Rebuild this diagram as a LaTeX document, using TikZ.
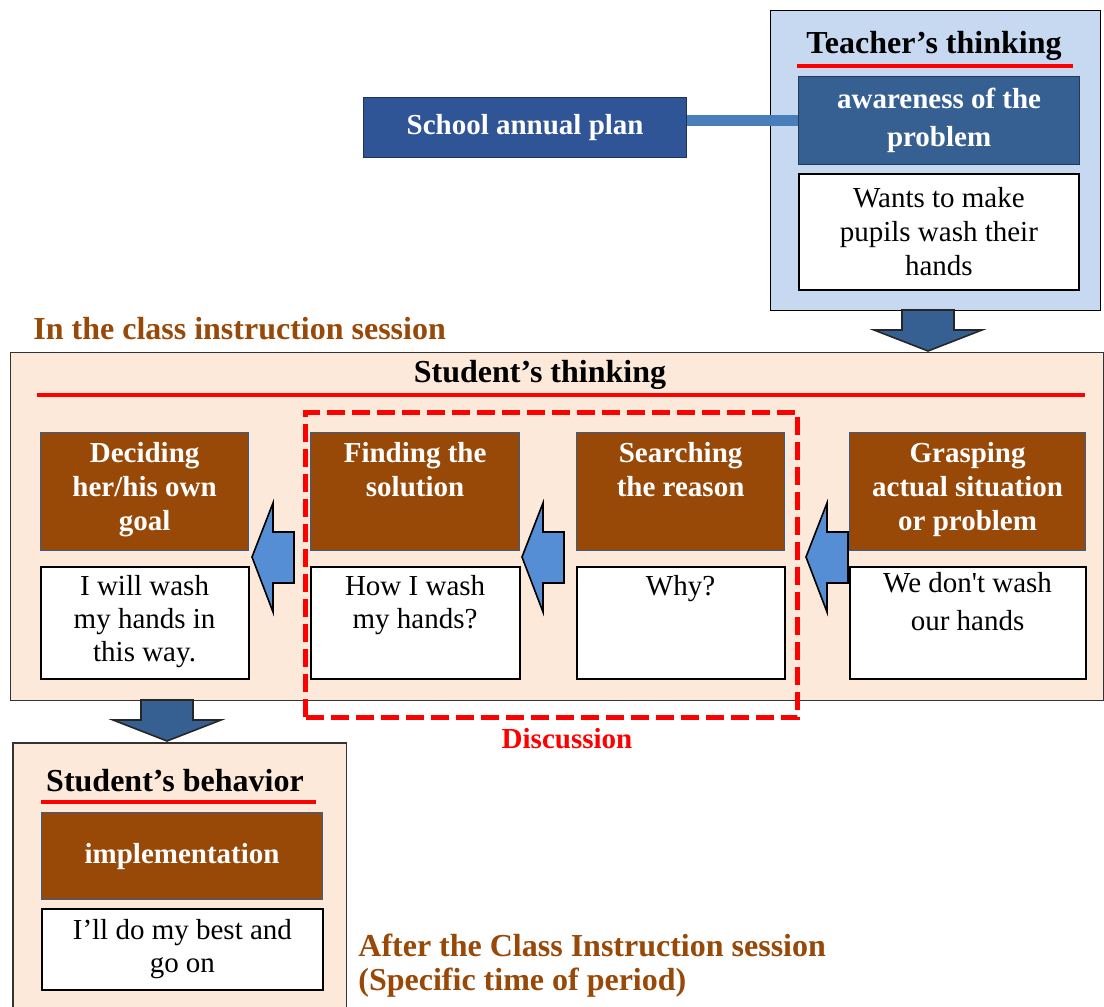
\documentclass[tikz,border=0pt]{standalone}
\usepackage{fontspec}
\setmainfont{Liberation Serif}
\usetikzlibrary{positioning}
\definecolor{boxbrown}{HTML}{984807}
\definecolor{boxedge}{HTML}{385D8A}
\definecolor{peach}{HTML}{FDE9D9}
\definecolor{paleblue}{HTML}{C6D9F1}
\definecolor{deepblue}{HTML}{376092}
\definecolor{planblue}{HTML}{2F5597}
\definecolor{barblue}{HTML}{4A7EBB}
\definecolor{arrowblue}{HTML}{558ED5}
\newcommand{\leftblock}[1]{\draw[left block] (#1) -- ++(21,-54) -- ++(0,29) -- ++(21,0) -- ++(0,51) -- ++(-21,0) -- ++(0,29) -- cycle;}
\newcommand{\downblock}[1]{\draw[down block] (#1) ++(-26,0) -- ++(0,20) -- ++(-28,0) -- ++(54,21) -- ++(54,-21) -- ++(-28,0) -- ++(0,-20) -- cycle;}

\begin{document}
\begin{tikzpicture}[x=0.5pt,y=-0.5pt,
		box/.style={anchor=north west,align=center,inner sep=0pt},
		brown box/.style={box,fill=boxbrown,draw=boxedge,line width=0.6pt,text=white,font=\bfseries\fontsize{14.5}{17}\selectfont},
		white box/.style={box,fill=white,draw=black,line width=0.9pt,font=\fontsize{14.5}{16.5}\selectfont},
		head text/.style={inner sep=0pt,font=\bfseries\fontsize{16}{17}\selectfont},
		red rule/.style={red,line width=1.6pt},
		left block/.style={fill=arrowblue,draw=black,line width=0.8pt,line join=miter},
		down block/.style={fill=deepblue,draw=black!85,line width=0.8pt,line join=miter}]
	\useasboundingbox (0,0) rectangle (1104,1007);

	\node[box,fill=paleblue,draw=black,line width=0.6pt,minimum width=165pt,minimum height=150pt] (teacher) at (770,10) {};
	\node[head text] (tthink) at (934,46) {Teacher’s thinking};
	\draw[red rule] (797,66) -- (1073,66);
	\node[box,fill=planblue,draw=planblue!60!black,line width=0.6pt,text=white,font=\bfseries\fontsize{14.5}{17}\selectfont,minimum width=161.5pt,minimum height=30pt] (plan) at (363,97) {School annual plan};
	\node[box,fill=deepblue,draw=deepblue!60!black,line width=0.6pt,text=white,font=\bfseries\fontsize{14.5}{19}\selectfont,minimum width=140.5pt,minimum height=44pt] (aware) at (798,76) {awareness of the\\problem};
	\draw[barblue,line width=5.5pt] (plan.east |- aware.west) -- (aware.west);
	\node[white box,font=\fontsize{14.5}{17}\selectfont,minimum width=140pt,minimum height=58pt] (wants) at (798,173) {Wants to make\\pupils wash their\\hands};

	\node[head text,text=boxbrown,anchor=west] (insession) at (33,329) {In the class instruction session};
	\node[box,fill=peach,draw=black!80,line width=0.6pt,minimum width=546.5pt,minimum height=174pt] (class) at (10,352) {};
	\node[head text] (sthink) at (540,375) {Student’s thinking};
	\draw[red rule] (37,395) -- (1085,395);

	\node[brown box,minimum width=104pt,minimum height=59pt] (decide) at (40,432) {Deciding\\her/his own\\goal\strut};
	\node[brown box,minimum width=104.5pt,minimum height=59pt] (find) at (310,432) {Finding the\\solution\\\strut};
	\node[brown box,minimum width=104pt,minimum height=59pt] (search) at (576,432) {Searching\\the reason\\\strut};
	\node[brown box,minimum width=118pt,minimum height=59pt] (grasp) at (849,432) {Grasping\\actual situation\\or problem\strut};
	\node[white box,minimum width=104pt,minimum height=56pt,below=7.5pt of decide] (will) {I will wash\\my hands in\\this way.\strut};
	\node[white box,minimum width=104.5pt,minimum height=56pt,below=7.5pt of find] (how) {How I wash\\my hands?\\\strut};
	\node[white box,minimum width=104pt,minimum height=56pt,below=7.5pt of search] (why) {Why?\\\strut\\\strut};
	\node[white box,minimum width=118pt,minimum height=56pt,below=7.5pt of grasp] (dont) {We don\textquotesingle t wash\\[2.5pt]our hands\\\strut};

	\leftblock{252,557}
	\leftblock{522,557}
	\leftblock{806,557}

	\node[box,draw=red,line width=2.5pt,dash pattern=on 9pt off 3.5pt,minimum width=246pt,minimum height=152.5pt] (disc) at (303,410) {};
	\node[head text,text=red,font=\bfseries\fontsize{14.5}{17}\selectfont] (disclabel) at (567,739) {Discussion};

	\node[box,fill=peach,minimum width=166.5pt,minimum height=132pt] (behave) at (13,743) {};
	\draw[black!80,line width=0.6pt] (behave.south west) -- (behave.north west) -- (behave.north east) -- (behave.south east);
	\node[head text] (sbehave) at (175,781) {Student’s behavior};
	\draw[red rule] (41,802) -- (316,802);
	\node[brown box,minimum width=140.5pt,minimum height=43.5pt] (impl) at (41,812) {implementation};
	\node[white box,minimum width=140.5pt,minimum height=40.5pt] (best) at (41,908) {I’ll do my best and\\go on};

	\node[head text,text=boxbrown,anchor=west,align=left] (after) at (358,966) {After the Class Instruction session\\(Specific time of period)};

	\downblock{928,310}
	\downblock{167,700}
\end{tikzpicture}
\end{document}
